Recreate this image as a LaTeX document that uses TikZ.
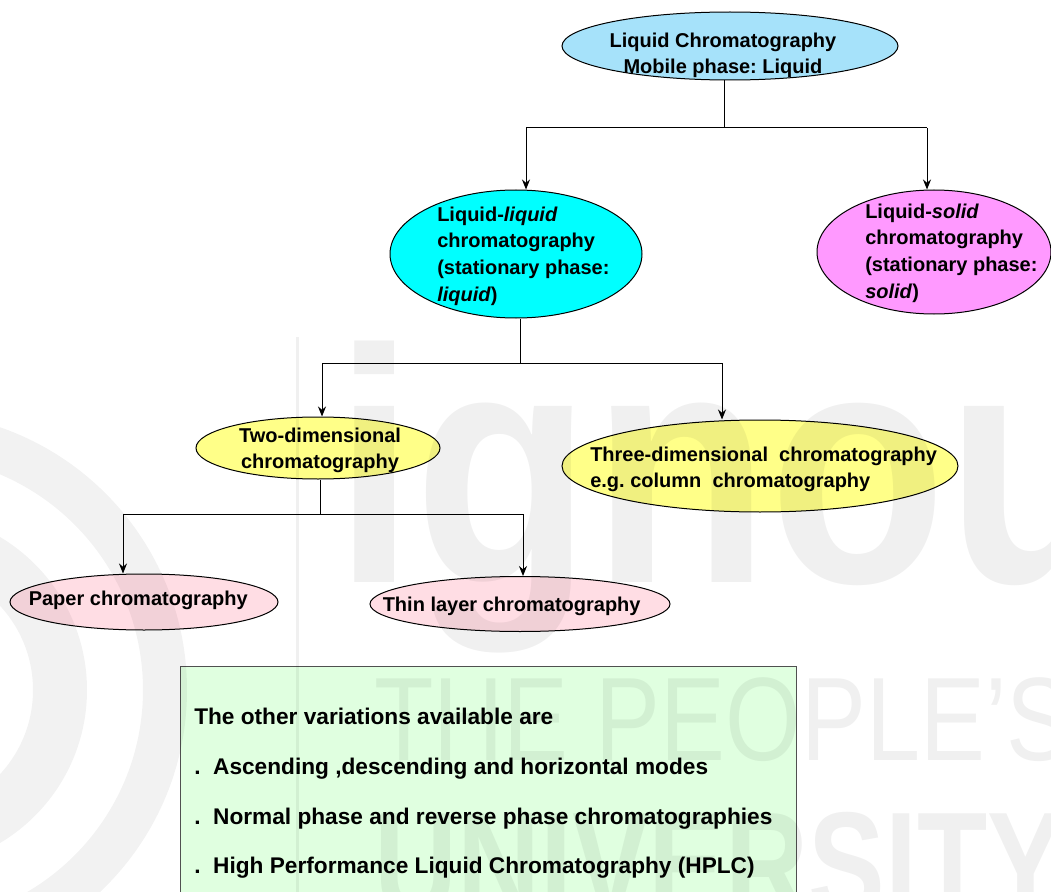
\documentclass[tikz,border=0pt]{standalone}
\usepackage{fontspec}
\setmainfont{Liberation Sans}
\usetikzlibrary{arrows.meta,shapes.geometric}
\definecolor{lcblue}{RGB}{166,226,250}
\definecolor{llcyan}{RGB}{0,255,255}
\definecolor{lspink}{RGB}{255,153,255}
\definecolor{dimyellow}{RGB}{255,255,136}
\definecolor{planrose}{RGB}{255,221,228}
\definecolor{notegreen}{RGB}{224,255,224}
\frenchspacing

\begin{document}
\begin{tikzpicture}[x=0.75pt,y=0.75pt,yscale=-1,
  oval/.style={ellipse, draw=black, line width=0.75pt, inner sep=0pt},
  lbl/.style={inner sep=0pt, font=\fontsize{15}{20}\selectfont\bfseries},
  wire/.style={line width=0.75pt},
  tip/.style={line width=0.75pt, -{Stealth[length=7.5pt,width=6pt]}},
  note/.style={anchor=base west, inner sep=0pt, font=\fontsize{17}{20}\selectfont\bfseries},
  wm/.style={inner sep=0pt, text=black, text opacity=0.06}]
\useasboundingbox (0,0) rectangle (1051,892);

%Shape: Rectangle
\draw [draw={rgb,255:red,80;green,80;blue,80}, fill=notegreen, line width=0.75pt] (180,666) rectangle (796,900);

%Shape: Ellipse
\node [oval, fill=lcblue, minimum width=252pt, minimum height=51pt] (lc) at (730,46) {};
%Shape: Ellipse
\node [oval, fill=llcyan, minimum width=189pt, minimum height=96pt] (ll) at (516,254) {};
%Shape: Ellipse
\node [oval, fill=lspink, minimum width=175.5pt, minimum height=93pt] (ls) at (934,252) {};
%Shape: Ellipse
\node [oval, fill=dimyellow, minimum width=183pt, minimum height=46.5pt] (two) at (318,448) {};
%Shape: Ellipse
\node [oval, fill=dimyellow, minimum width=297pt, minimum height=69pt] (three) at (760,466) {};
%Shape: Ellipse
\node [oval, fill=planrose, minimum width=201pt, minimum height=42pt] (paper) at (144,602) {};
%Shape: Ellipse
\node [oval, fill=planrose, minimum width=225pt, minimum height=41.25pt] (thin) at (520,604) {};

%Straight Lines
\coordinate (lcj) at (724,128);
\coordinate (llj) at (526,128);
\coordinate (lsj) at (927,128);
\draw [wire] (lcj |- lc.south) -- (lcj);
\draw [wire] (llj) -- (lsj);
\draw [tip] (llj) -- (llj |- ll.north);
\draw [tip] (lsj) -- (lsj |- ls.north);
%Straight Lines
\coordinate (llk) at (520,363);
\coordinate (twoj) at (322,363);
\coordinate (threej) at (722,363);
\draw [wire] (llk |- ll.south) -- (llk);
\draw [wire] (twoj) -- (threej);
\draw [tip] (twoj) -- (twoj |- two.north);
\draw [tip] (threej) -- (threej |- three.north);
%Straight Lines
\coordinate (twok) at (320,514);
\coordinate (paperj) at (123,514);
\coordinate (thinj) at (523,514);
\draw [wire] (twok |- two.south) -- (twok);
\draw [wire] (paperj) -- (thinj);
\draw [tip] (paperj) -- (paperj |- paper.north);
\draw [tip] (thinj) -- (thinj |- thin.north);

% Text Node
\node [lbl, anchor=north, align=center] (lctxt) at (723,32.4) {Liquid Chromatography\\Mobile phase: Liquid};
% Text Node
\node [lbl, anchor=north west, align=left] (lltxt) at (437,206.4) {Liquid-\textit{liquid}\\chromatography\\(stationary phase:\\\textit{liquid})};
% Text Node
\node [lbl, anchor=north west, align=left] (lstxt) at (865,203.4) {Liquid-\textit{solid}\\chromatography\\(stationary phase:\\\textit{solid})};
% Text Node
\node [lbl, anchor=north, align=center] (twotxt) at (320,427.4) {Two-dimensional\\chromatography};
% Text Node
\node [lbl, anchor=north west, align=left] (threetxt) at (590,446.4) {Three-dimensional~~chromatography\\e.g. column~~chromatography};
% Text Node
\node [lbl, anchor=base west] (papertxt) at (28.5,605) {Paper chromatography};
% Text Node
\node [lbl, anchor=base west] (thintxt) at (382.5,611) {Thin layer chromatography};

% Text Node
\node [note] (n0) at (194,724) {The other variations available are};
% Text Node
\node [note] (n1) at (194,774) {.~~Ascending ,descending and horizontal modes};
% Text Node
\node [note] (n2) at (194,824) {.~~Normal phase and reverse phase chromatographies};
% Text Node
\node [note] (n3) at (194,873) {.~~High Performance Liquid Chromatography (HPLC)};

%watermark
\fill [black, opacity=0.05, even odd rule] (-91,690) circle (278) (-91,690) circle (234);
\fill [black, opacity=0.05, even odd rule] (-91,690) circle (178) (-91,690) circle (124);
\draw [black, opacity=0.06, line width=2.25pt] (297,337) -- (297,892);
\node [wm, anchor=base west, font=\fontsize{250}{250}\selectfont\bfseries] (wmlogo) at (334,582) {\scalebox{0.87}[1]{ignou}};
\node [wm, anchor=base west, font=\fontsize{89}{89}\selectfont] (wmtop) at (374,760) {\scalebox{0.82}[1]{THE PEOPLE'S}};
\node [wm, anchor=base west, font=\fontsize{112}{112}\selectfont\bfseries] (wmbot) at (374,916) {\scalebox{0.77}[1]{UNIVERSITY}};

\end{tikzpicture}
\end{document}
